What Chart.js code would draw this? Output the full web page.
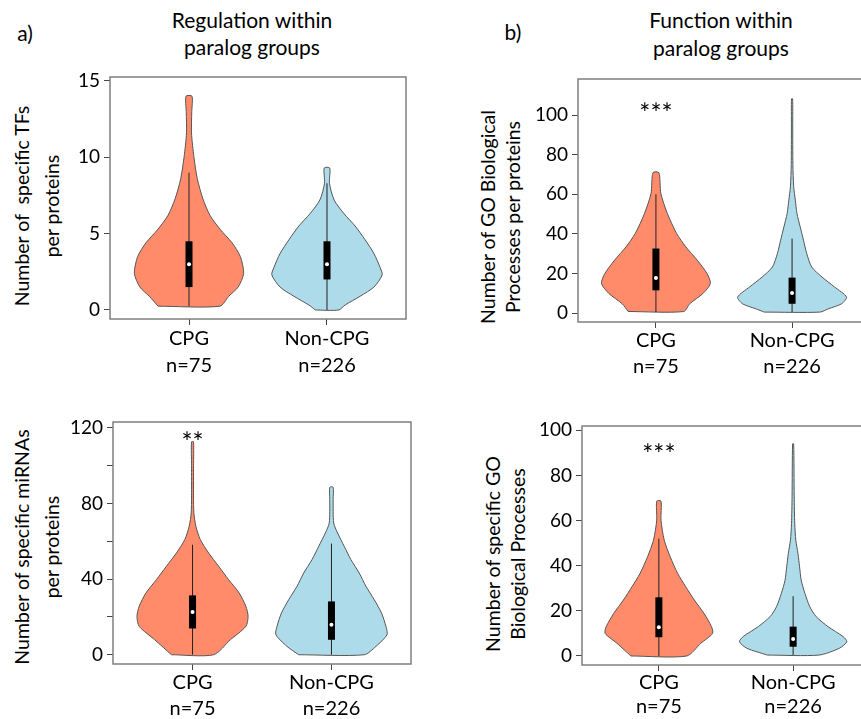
<!DOCTYPE html>
<html>
<head>
<meta charset="utf-8">
<script src="https://cdn.jsdelivr.net/npm/chart.js@4.4.1/dist/chart.umd.min.js"></script>
<style>
  html, body { margin: 0; padding: 0; background: #fff; overflow: hidden; }
  #page { position: relative; width: 861px; height: 719px; overflow: hidden; font-family: Lato, sans-serif; color: #000; }
  #page canvas { position: absolute; }
  .txt { position: absolute; transform: translate(-50%, -50%); white-space: nowrap; text-align: center; font-size: 21px; }
  .ytitle { position: absolute; transform: translate(-50%, -50%) rotate(-90deg); white-space: nowrap; text-align: center; font-size: 19.5px; }
</style>
</head>
<body>
<div id="page">
  <div class="txt" style="left:25px; top:32px;">a)</div>
  <div class="txt" style="left:513px; top:31px;">b)</div>
  <div class="txt" style="left:252px; top:33px; line-height:27px;">Regulation within<br>paralog groups</div>
  <div class="txt" style="left:721px; top:34px; line-height:28px;">Function within<br>paralog groups</div>
  <div class="ytitle" style="left:37px; top:206px; line-height:30px;">Number of&nbsp; specific TFs<br>per proteins</div>
  <div class="ytitle" style="left:500px; top:217px; line-height:25px;">Number of GO Biological<br>Processes per proteins</div>
  <div class="ytitle" style="left:37px; top:547px; line-height:30px;">Number of specific miRNAs<br>per proteins</div>
  <div class="ytitle" style="left:505px; top:554px; line-height:25px;">Number of specific GO<br>Biological Processes</div>

  <canvas id="chartA" width="430" height="320" style="left:0px; top:60px;"></canvas>
  <canvas id="chartB" width="450" height="330" style="left:430px; top:60px;"></canvas>
  <canvas id="chartC" width="430" height="319" style="left:0px; top:400px;"></canvas>
  <canvas id="chartD" width="450" height="319" style="left:430px; top:400px;"></canvas>
</div>
<script>
// groups on the x axis
const groups = ['CPG', 'Non-CPG'];
const groupSizes = ['n=75', 'n=226'];

// a) specific TFs per protein: violin profile (value, relative width) and box stats [min, q1, median, q3, max]
const tfCpgY = [0.25, 0.9, 1.5, 2.4, 3.5, 4.4, 5.3, 6.2, 7.3, 8.6, 10, 11.6, 13, 14];
const tfCpgW = [0.56, 0.72, 0.89, 0.99, 0.93, 0.78, 0.56, 0.38, 0.25, 0.15, 0.09, 0.045, 0.05, 0.055];
const tfCpgBox = [0.25, 1.5, 3, 4.5, 9];
const tfNonY = [0, 0.33, 0.9, 1.5, 2.3, 2.8, 3.7, 4.6, 5.5, 6.3, 7.2, 8.3, 9.3];
const tfNonW = [0.21, 0.33, 0.6, 0.85, 1.0, 0.96, 0.85, 0.69, 0.51, 0.31, 0.13, 0.045, 0.05];
const tfNonBox = [0, 2, 3, 4.5, 8.3];
const tfTicks = [0, 5, 10, 15];

// b) GO biological processes per protein
const bpCpgY = [0.8, 4.7, 9.8, 14.9, 19.9, 26.7, 33.4, 40.2, 50.3, 60.4, 70.9];
const bpCpgW = [0.51, 0.62, 0.86, 1.0, 0.94, 0.76, 0.55, 0.38, 0.21, 0.09, 0.055];
const bpCpgBox = [0.5, 11.5, 17.7, 32.6, 60];
const bpNonY = [0.5, 2.2, 4.7, 8.1, 13.2, 18.2, 23.3, 30, 36.8, 43.5, 50.3, 57, 63.8, 75, 95, 108.2];
const bpNonW = [0.51, 0.67, 0.91, 1.0, 0.78, 0.55, 0.36, 0.27, 0.21, 0.15, 0.09, 0.06, 0.03, 0.015, 0.012, 0.01];
const bpNonBox = [0.5, 4.7, 10.1, 17.9, 37.6];
const bpTicks = [0, 20, 40, 60, 80, 100];

// lower left: specific miRNAs per protein
const miCpgY = [0, 7.9, 15, 20.3, 25.6, 32.6, 39.7, 46.8, 53.8, 60.9, 68, 75, 84, 100, 112.6];
const miCpgW = [0.38, 0.68, 0.96, 1.0, 0.96, 0.84, 0.65, 0.47, 0.29, 0.14, 0.06, 0.024, 0.018, 0.018, 0.018];
const miCpgBox = [0, 13.9, 22.6, 31.4, 58.2];
const miNonY = [0, 4.4, 10.6, 15, 22.1, 29.1, 36.2, 43.2, 50.3, 57.3, 64.4, 69.7, 82, 88.6];
const miNonW = [0.59, 0.8, 1.0, 0.98, 0.9, 0.77, 0.62, 0.5, 0.35, 0.23, 0.11, 0.04, 0.03, 0.03];
const miNonBox = [0, 7.9, 15.9, 28.2, 58.8];
const miTicks = [0, 20, 40, 60, 80, 100, 120];
const miTickLabels = ['0', '', '40', '', '80', '', '120'];

// lower right: specific GO biological processes
const gsCpgY = [0, 5.6, 10, 13, 18.9, 24.8, 30.7, 36.6, 44, 51.3, 60.2, 68.6];
const gsCpgW = [0.52, 0.78, 1.0, 0.98, 0.84, 0.66, 0.5, 0.35, 0.21, 0.1, 0.04, 0.04];
const gsCpgBox = [0, 8.3, 12.7, 26, 52];
const gsNonY = [0.4, 3.4, 6.3, 8.6, 13, 17.4, 21.8, 27.7, 33.6, 39.5, 45.4, 51.3, 58.7, 70.5, 94];
const gsNonW = [0.48, 0.86, 1.0, 0.93, 0.65, 0.43, 0.31, 0.22, 0.15, 0.12, 0.09, 0.05, 0.03, 0.02, 0.01];
const gsNonBox = [0.4, 4.1, 7.5, 13, 26.5];
const gsTicks = [0, 20, 40, 60, 80, 100];

// significance marks
const starsB = { text: '***', y: 104.5 };
const starsC = { text: '**', y: 116 };
const starsD = { text: '***', y: 92.3 };

const FONT = 'Lato';
const COLORS = ['#FF8B6B', '#ADDBE9'];
const HALF_WIDTH = 0.4;   // max half width of a violin in category units

// frame round the plot area + star text
const framePlugin = {
  id: 'frame',
  afterDatasetsDraw(chart, args, opts) {
    const { ctx, chartArea: a } = chart;
    ctx.save();
    ctx.strokeStyle = '#7f7f7f';
    ctx.lineWidth = 1.5;
    ctx.strokeRect(a.left, a.top, a.right - a.left, a.bottom - a.top);
    if (opts.text) {
      ctx.font = '26px ' + FONT;
      ctx.fillStyle = '#000';
      ctx.textAlign = 'center';
      ctx.textBaseline = 'alphabetic';
      const m = ctx.measureText(opts.text);
      const x = chart.scales.x.getPixelForValue(1);
      const y = chart.scales.y.getPixelForValue(opts.y);
      ctx.fillText(opts.text, x, y - (m.actualBoundingBoxDescent - m.actualBoundingBoxAscent) / 2);
    }
    ctx.restore();
  }
};

function violinSets(center, ys, ws, box, color) {
  const left = ys.map((y, i) => ({ x: center - HALF_WIDTH * ws[i], y: y }));
  const right = ys.map((y, i) => ({ x: center + HALF_WIDTH * ws[i], y: y })).reverse();
  const outline = [...left, ...right, left[0]];
  return [
    { data: [{ x: center, y: box[2] }], showLine: false, pointRadius: 2, pointBackgroundColor: '#fff', pointBorderWidth: 0, order: 0 },
    { data: [{ x: center, y: box[1] }, { x: center, y: box[3] }], borderColor: '#000', borderWidth: 7, borderCapStyle: 'butt', pointRadius: 0, order: 1 },
    { data: [{ x: center, y: box[0] }, { x: center, y: box[4] }], borderColor: '#222', borderWidth: 1, pointRadius: 0, order: 2 },
    { data: outline, borderColor: '#555', borderWidth: 1, backgroundColor: color, fill: 'shape', tension: 0.25, pointRadius: 0, order: 3 }
  ];
}

function makeChart(id, p) {
  const datasets = [
    ...violinSets(1, p.cpgY, p.cpgW, p.cpgBox, COLORS[0]),
    ...violinSets(2, p.nonY, p.nonW, p.nonBox, COLORS[1])
  ];
  return new Chart(document.getElementById(id), {
    type: 'line',
    data: { datasets: datasets },
    options: {
      responsive: false,
      animation: false,
      devicePixelRatio: 1,
      layout: { padding: { top: p.padTop, right: p.padRight, left: 0, bottom: 0 } },
      plugins: {
        legend: { display: false },
        tooltip: { enabled: false },
        frame: p.stars || {}
      },
      scales: {
        x: {
          type: 'linear', min: 0.4275, max: 2.5725, bounds: 'data',
          afterBuildTicks: ax => { ax.ticks = [1, 2].map(v => ({ value: v })); },
          afterFit: ax => { ax.height = p.xH; },
          grid: { drawOnChartArea: false, drawTicks: true, tickLength: 6, color: '#444' },
          border: { display: false },
          ticks: {
            autoSkip: false, maxRotation: 0, padding: 0, color: '#000',
            font: { family: FONT, size: 20, lineHeight: p.xLine + 'px' },
            callback: (v, i) => [groups[i], groupSizes[i]]
          }
        },
        y: {
          type: 'linear', min: p.yMin, max: p.yMax, bounds: 'data',
          afterBuildTicks: ax => { ax.ticks = p.ticks.map(v => ({ value: v })); },
          afterFit: ax => { ax.width = p.yW; },
          grid: { drawOnChartArea: false, drawTicks: true, tickLength: 6, color: '#444' },
          border: { display: false },
          ticks: {
            autoSkip: false, padding: 4, color: '#000',
            font: { family: FONT, size: 19 },
            callback: (v, i) => p.tickLabels ? p.tickLabels[i] : String(v)
          }
        }
      }
    },
    plugins: [framePlugin]
  });
}

makeChart('chartA', {
  cpgY: tfCpgY, cpgW: tfCpgW, cpgBox: tfCpgBox, nonY: tfNonY, nonW: tfNonW, nonBox: tfNonBox,
  ticks: tfTicks, yMin: -0.59, yMax: 15.26,
  padTop: 17, padRight: 24, yW: 110, xH: 61, xLine: 27
});
makeChart('chartB', {
  cpgY: bpCpgY, cpgW: bpCpgW, cpgBox: bpCpgBox, nonY: bpNonY, nonW: bpNonW, nonBox: bpNonBox,
  ticks: bpTicks, yMin: -4.5, yMax: 118.2, stars: starsB,
  padTop: 19, padRight: 10, yW: 148, xH: 68, xLine: 26
});
makeChart('chartC', {
  cpgY: miCpgY, cpgW: miCpgW, cpgBox: miCpgBox, nonY: miNonY, nonW: miNonW, nonBox: miNonBox,
  ticks: miTicks, tickLabels: miTickLabels, yMin: -4.9, yMax: 123.1, stars: starsC,
  padTop: 22, padRight: 19, yW: 113, xH: 55, xLine: 26
});
makeChart('chartD', {
  cpgY: gsCpgY, cpgW: gsCpgW, cpgBox: gsCpgBox, nonY: gsNonY, nonW: gsNonW, nonBox: gsNonBox,
  ticks: gsTicks, yMin: -4.0, yMax: 101.9, stars: starsD,
  padTop: 26, padRight: 10, yW: 152, xH: 54, xLine: 24
});
</script>
</body>
</html>
